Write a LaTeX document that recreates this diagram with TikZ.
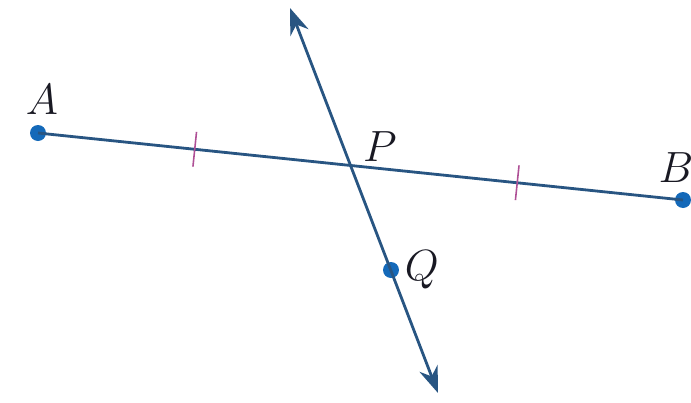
\documentclass[tikz,border=0pt]{standalone}
\usepackage{xcolor}
\usepackage{tikz}
\usetikzlibrary{arrows.meta, positioning}
\definecolor{lineblue}{RGB}{40,85,130}
\definecolor{dotblue}{RGB}{20,105,185}
\definecolor{tickpink}{RGB}{175,80,150}
\definecolor{labeldark}{RGB}{25,25,35}
\tikzset{
  ptdot/.style={circle, fill=dotblue, inner sep=0pt, minimum size=0.32cm},
  ptlabel/.style={font=\fontsize{23}{26}\selectfont, text=labeldark, inner sep=1pt},
  segline/.style={line width=1.6pt, color=lineblue},
  arrline/.style={{Stealth[length=15pt, width=11pt]}-{Stealth[length=15pt, width=11pt]}, line width=1.6pt, color=lineblue},
  tickmk/.style={rectangle, draw=tickpink, line width=0.9pt, minimum width=0pt, minimum height=0.7cm, inner sep=0pt}
}

\begin{document}
\begin{tikzpicture}[x=0.02cm, y=-0.02cm]
\useasboundingbox (0,0) rectangle (691,403);

% Segment AB
\node[ptdot] (A) at (38,133) {};
\node[ptdot] (B) at (683,200) {};
\draw[segline] (A.center) -- (B.center);
\path (A.center) -- (B.center)
  node[tickmk, pos=0.243, sloped] (T1) {}
  node[tickmk, pos=0.743, sloped] (T2) {};

% Line through P and Q
\coordinate (Top) at (290,8);
\coordinate (Bot) at (438,393);
\coordinate (P) at (350,165);
\node[ptdot] (Q) at (391,270) {};
\draw[arrline] (Top) -- (Bot);

% Labels
\node[ptlabel] (lA) at (42,100) {$A$};
\node[ptlabel] (lB) at (676,168) {$B$};
\node[ptlabel] (lP) at (380,147) {$P$};
\node[ptlabel, right=2pt of Q] (lQ) {$Q$};
\end{tikzpicture}
\end{document}
